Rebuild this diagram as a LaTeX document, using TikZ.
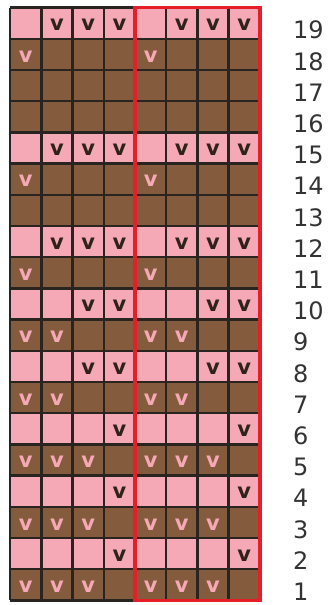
\documentclass[tikz,border=0pt]{standalone}
\usepackage{fontspec}
\newfontfamily\numfont{DejaVu Sans}
\definecolor{knitpink}{HTML}{F5A8B5}
\definecolor{knitbrown}{HTML}{855B3D}
\definecolor{gridgray}{HTML}{2A2421}
\definecolor{knitred}{HTML}{E61E28}
\definecolor{vdark}{HTML}{2E2219}
\tikzset{
  cellline/.style={gridgray,line width=2.4pt},
  repeatbox/.style={knitred,line width=3.6pt},
  vmark/.style={inner sep=0pt,yshift=-2pt,font=\numfont\bfseries\fontsize{21}{21}\selectfont},
  vdk/.style={vmark,text=vdark},
  vpk/.style={vmark,text=knitpink},
  rowlbl/.style={anchor=west,inner sep=0pt,xshift=33pt,yshift=-7pt,
    font=\numfont\fontsize{24}{24}\selectfont,text=black!80}
}
\begin{document}
\begin{tikzpicture}[x=31.2pt,y=31.2pt]
\useasboundingbox (-10.2pt,-4.6pt) rectangle ++(328pt,605pt);
\fill[knitbrown] (0,0) rectangle (8,19);
\foreach \r in {2,4,6,8,10,12,15,19}
  \fill[knitpink] (0,\r-1) rectangle (8,\r);
\draw[cellline,step=1] (0,0) grid (8,19);
\draw[repeatbox] (4,0) rectangle (8,19);
\foreach \c/\r in {2/19,3/19,4/19,2/15,3/15,4/15,2/12,3/12,4/12,
                   3/10,4/10,3/8,4/8,4/6,4/4,4/2}
  \foreach \o in {0,4}
    \node[vdk] (d-\the\numexpr\c+\o\relax-\r) at (\c+\o-.5,\r-.5) {v};
\foreach \c/\r in {1/18,1/14,1/11,1/9,2/9,1/7,2/7,
                   1/5,2/5,3/5,1/3,2/3,3/3,1/1,2/1,3/1}
  \foreach \o in {0,4}
    \node[vpk] (p-\the\numexpr\c+\o\relax-\r) at (\c+\o-.5,\r-.5) {v};
\foreach \r in {1,...,19}
  \node[rowlbl] (row\r) at (8,\r-.5) {\r};
\end{tikzpicture}
\end{document}
